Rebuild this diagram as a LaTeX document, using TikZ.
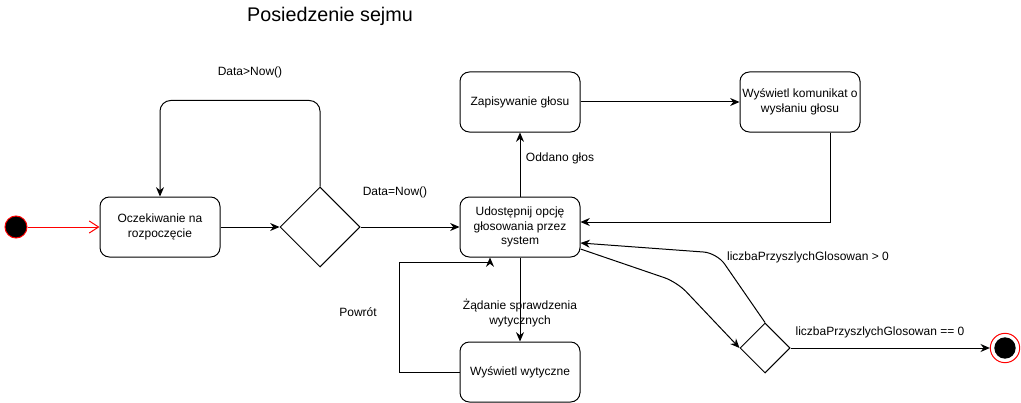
\documentclass[tikz,border=0pt]{standalone}
\usepackage{fontspec}
\setmainfont{Liberation Sans}
\usetikzlibrary{shapes.geometric,arrows.meta,calc}
\tikzset{
	statebox/.style={draw, rounded corners=7pt, minimum width=90pt, minimum height=45pt, align=center, inner sep=1pt},
	choice/.style={draw, diamond, aspect=1, inner sep=0pt},
	flow/.style={-{Stealth[length=7pt,width=6pt]}},
	startflow/.style={draw=red, -{Straight Barb[length=7pt,width=9pt]}}
}
\begin{document}
\begin{tikzpicture}[x=0.75pt,y=-0.75pt,line width=0.75pt,font=\fontsize{9}{11}\selectfont]
			\newcommand{\mytitlefont}[1]{
				\fontsize{14.8}{17}\selectfont{#1}
			}%Frame
			\useasboundingbox (0,0) rectangle (1021,403);
			%Title
			\coordinate (titlepos) at (330,16);
			\node (title) at (titlepos) {\mytitlefont{Posiedzenie sejmu}};
			%Start and end states
			\node (start) at (16,227) [circle, draw=red, fill=black, minimum size=16.5pt, inner sep=0pt] {};
			\node (endring) at (1005,348) [circle, draw=red, fill=white, minimum size=22pt, inner sep=0pt] {};
			\node (end) at (1005,348) [circle, fill=black, minimum size=16pt, inner sep=0pt] {};
			%States
			\node (wait) at (160,227) [statebox] {Oczekiwanie na\\rozpoczęcie};
			\node (vote) at (520,227) [statebox] {Udostępnij opcję\\głosowania przez\\system};
			\node (save) at (520,102) [statebox] {Zapisywanie głosu};
			\node (msg) at (800,102) [statebox] {Wyświetl komunikat o\\wysłaniu głosu};
			\node (guide) at (520,372) [statebox] {Wyświetl wytyczne};
			%Decisions
			\node (datecheck) at (320,227) [choice, minimum size=60pt] {};
			\node (votecheck) at (765,348) [choice, minimum size=37.5pt] {};
			%Bend points
			\coordinate (msgdown) at ($(msg.south)+(30,0)$);
			\coordinate (voteright) at ($(vote.east)+(0,-5)$);
			\coordinate (voteback) at ($(vote.south)+(-30,0)$);
			\coordinate (voteout) at ($(vote.east)+(0,22)$);
			\coordinate (votein) at ($(vote.east)+(0,16)$);
			\coordinate (bendout) at (677,282);
			\coordinate (bendin) at (717,253);
			%Connectors
			\draw [startflow] (start) -- (wait);
			\draw [flow] (wait) -- (datecheck);
			\draw [flow, rounded corners=8pt] (datecheck.north) -- ++(0,-86) -| (wait.north);
			\draw [flow] (datecheck) -- (vote);
			\draw [flow] (vote) -- (save);
			\draw [flow] (save) -- (msg);
			\draw [flow] (msgdown) |- (voteright);
			\draw [flow] (vote) -- (guide);
			\draw [flow] (guide.west) -| ++(-60,-110) -| (voteback);
			\draw [flow, rounded corners=10pt] (voteout) -- (bendout) -- (votecheck.west);
			\draw [flow, rounded corners=10pt] (votecheck.north) -- (bendin) -- (votein);
			\draw [flow] (votecheck) -- (endring);
			%Labels
			\node (lateLabel) at (250,72) {Data>Now()};
			\node (nowLabel) at (395,192) {Data=Now()};
			\node (castLabel) at (560,158) {Oddano głos};
			\node (askLabel) at (520,313) [align=center] {Żądanie sprawdzenia\\wytycznych};
			\node (backLabel) at (358,312) {Powrót};
			\node (moreLabel) at (808,257) {liczbaPrzyszlychGlosowan > 0};
			\node (noneLabel) at (880,332) {liczbaPrzyszlychGlosowan == 0};
			\end{tikzpicture}
\end{document}
